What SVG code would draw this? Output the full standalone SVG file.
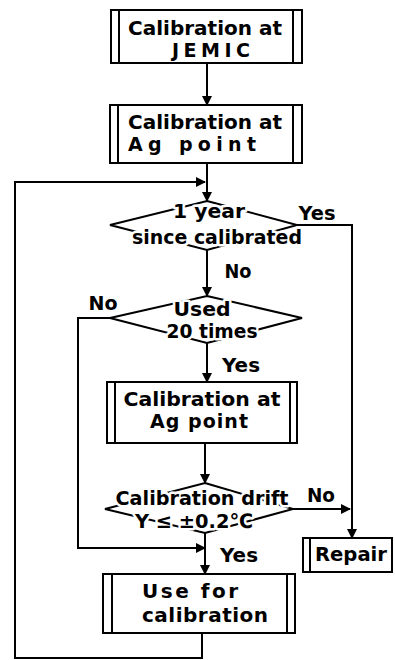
<svg xmlns="http://www.w3.org/2000/svg" width="395" height="660" viewBox="0 0 395 660">
<style>
.bx{fill:#fff;stroke:#000;stroke-width:2}
.ln{fill:none;stroke:#000;stroke-width:2}
.c{fill:none;stroke:#000;stroke-width:2;stroke-linejoin:miter}
text{font-family:"DejaVu Sans","Liberation Sans",sans-serif;font-size:20px;font-weight:bold;fill:#000;text-anchor:middle}
.s{font-size:19px}
.h{paint-order:stroke;stroke:#fff;stroke-width:5px;stroke-linejoin:round}
</style>
<defs>
<marker id="ah" markerWidth="10" markerHeight="10" refX="9" refY="5" orient="auto" markerUnits="userSpaceOnUse">
<path d="M0,0 L10,5 L0,10 Z" fill="#000"/>
</marker>
</defs>
<rect width="395" height="660" fill="#fff"/>
<g id="connectors">
<path class="c" d="M207,63 V105" marker-end="url(#ah)"/>
<path class="c" d="M207,163 V201" marker-end="url(#ah)"/>
<path class="c" d="M202,633 V658 H15 V182 H205" marker-end="url(#ah)"/>
<path class="c" d="M207,250 V296" marker-end="url(#ah)"/>
<path class="c" d="M297,225 H352 V538" marker-end="url(#ah)"/>
<path class="c" d="M110,318 H78 V548 H205" marker-end="url(#ah)"/>
<path class="c" d="M207,343 V382" marker-end="url(#ah)"/>
<path class="c" d="M205,443 V483" marker-end="url(#ah)"/>
<path class="c" d="M293,509 H350" marker-end="url(#ah)"/>
<path class="c" d="M205,533 V574" marker-end="url(#ah)"/>
</g>
<g id="n1">
<rect class="bx" x="111" y="10" width="191" height="53"/>
<path class="ln" d="M119,10 V63 M293,10 V63"/>
<text class="s" x="205" y="35" textLength="154" lengthAdjust="spacingAndGlyphs">Calibration at</text>
<text class="s" x="211" y="57" textLength="78" lengthAdjust="spacing">JEMIC</text>
</g>
<g id="n2">
<rect class="bx" x="110" y="105" width="192" height="58"/>
<path class="ln" d="M118,105 V163 M293,105 V163"/>
<text class="s" x="205" y="129" textLength="154" lengthAdjust="spacingAndGlyphs">Calibration at</text>
<text class="s" x="192" y="151" textLength="128" lengthAdjust="spacing">Ag point</text>
</g>
<g id="d1">
<path class="ln" d="M207,201 L297,225 L207,250 L110,225 Z"/>
<text class="h" x="209" y="218" textLength="72" lengthAdjust="spacingAndGlyphs">1 year</text>
<text class="h" x="217" y="244" textLength="170" lengthAdjust="spacingAndGlyphs">since calibrated</text>
</g>
<g id="d2">
<path class="ln" d="M207,296 L302,318 L207,343 L110,318 Z"/>
<text class="h" x="202" y="316" textLength="57" lengthAdjust="spacingAndGlyphs">Used</text>
<text class="h" x="212" y="338" textLength="91" lengthAdjust="spacingAndGlyphs">20 times</text>
</g>
<g id="n3">
<rect class="bx" x="107" y="382" width="190" height="61"/>
<path class="ln" d="M115,382 V443 M290,382 V443"/>
<text class="s" x="202" y="406" textLength="157" lengthAdjust="spacingAndGlyphs">Calibration at</text>
<text class="s" x="199" y="428" textLength="98" lengthAdjust="spacing">Ag point</text>
</g>
<g id="d3">
<path class="ln" d="M205,483 L293,509 L205,533 L105,509 Z"/>
<text class="h" x="202" y="505" textLength="173" lengthAdjust="spacingAndGlyphs">Calibration drift</text>
<text class="h" x="194" y="528" textLength="118" lengthAdjust="spacingAndGlyphs">Y ≤ ±0.2℃</text>
</g>
<g id="n4">
<rect class="bx" x="103" y="574" width="192" height="59"/>
<path class="ln" d="M112,574 V633 M287,574 V633"/>
<text x="190" y="598" textLength="96" lengthAdjust="spacing">Use for</text>
<text x="205" y="622" textLength="126" lengthAdjust="spacing">calibration</text>
</g>
<g id="repair">
<rect class="bx" x="303" y="538" width="89" height="34"/>
<path class="ln" d="M310,538 V572"/>
<text x="351" y="561" textLength="72" lengthAdjust="spacingAndGlyphs">Repair</text>
</g>
<g id="labels">
<text class="h" x="317" y="220" textLength="37" lengthAdjust="spacingAndGlyphs">Yes</text>
<text x="238" y="278" textLength="27" lengthAdjust="spacingAndGlyphs">No</text>
<text x="103" y="310" textLength="29" lengthAdjust="spacingAndGlyphs">No</text>
<text x="241" y="372" textLength="38" lengthAdjust="spacingAndGlyphs">Yes</text>
<text class="h" x="321" y="502" textLength="28" lengthAdjust="spacingAndGlyphs">No</text>
<text x="239" y="562" textLength="38" lengthAdjust="spacingAndGlyphs">Yes</text>
</g>
</svg>
